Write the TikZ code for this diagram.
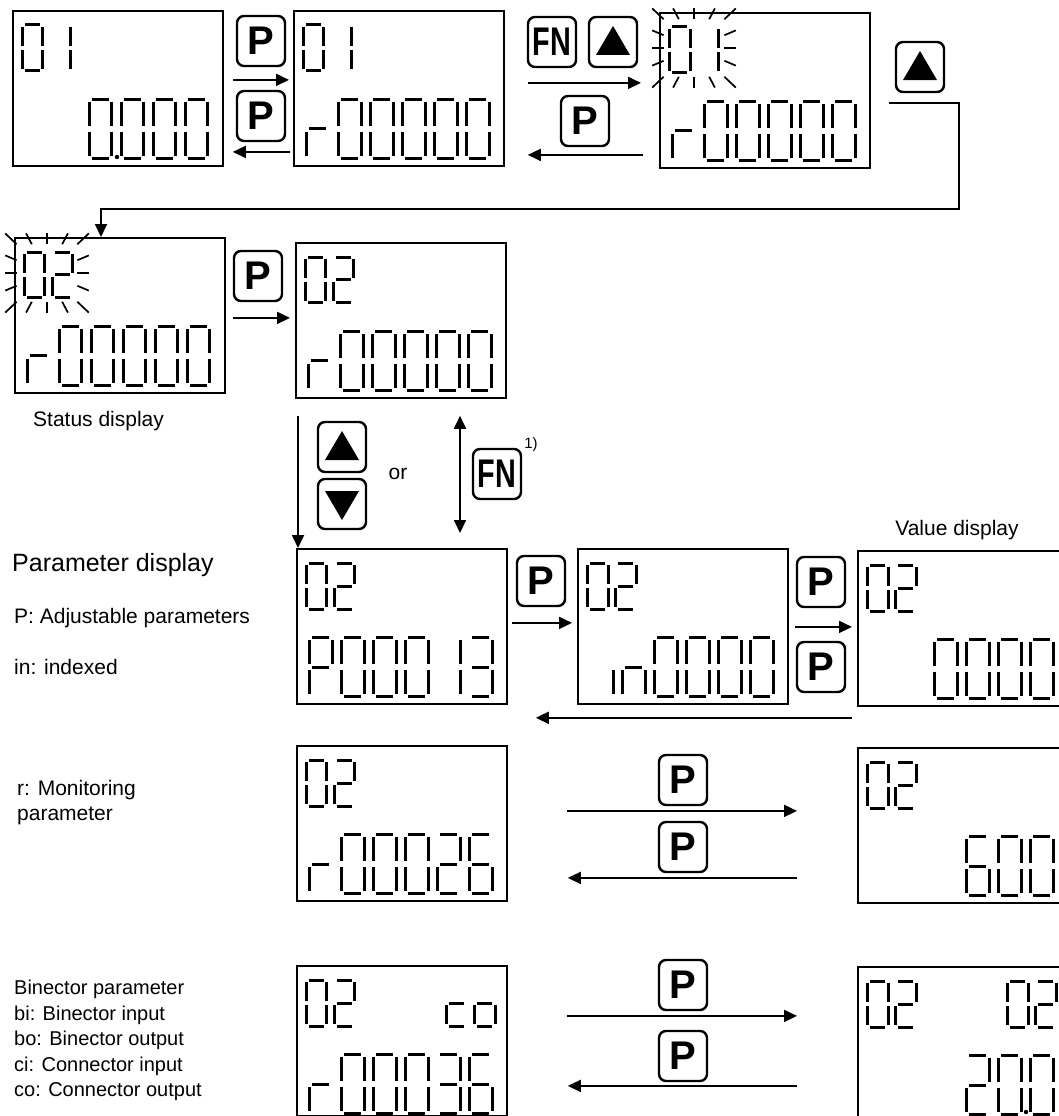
\documentclass[tikz,border=0pt]{standalone}
\usepackage{fontspec}
\setmainfont{Liberation Sans}
\usepackage{graphicx}
\usetikzlibrary{arrows.meta,calc}

% seven-segment glyphs: which segments are lit
\newcommand{\defglyph}[2]{\expandafter\def\csname lcdg-#1\endcsname{#2}}
\defglyph{0}{a,b,c,d,e,f}
\defglyph{1}{b,c}
\defglyph{2}{a,b,g,e,d}
\defglyph{3}{a,b,g,c,d}
\defglyph{6}{a,f,g,e,c,d}
\defglyph{P}{a,b,f,g,e}
\defglyph{r}{e,g}
\defglyph{n}{e,g,c}
\defglyph{i}{c}
\defglyph{c}{g,e,d}
\defglyph{o}{g,e,c,d}

% one cell: top left corner, size style, glyph
\newcommand{\lcdcell}[4]{%
  \begin{scope}[shift={(#1,#2)}, #3]
    \coordinate (sa1) at (0.15,0);  \coordinate (sa2) at (0.85,0);
    \coordinate (sb1) at (1,0.1);   \coordinate (sb2) at (1,0.9);
    \coordinate (sc1) at (1,1.1);   \coordinate (sc2) at (1,1.9);
    \coordinate (sd1) at (0.15,2);  \coordinate (sd2) at (0.85,2);
    \coordinate (se1) at (0,1.1);   \coordinate (se2) at (0,1.9);
    \coordinate (sf1) at (0,0.1);   \coordinate (sf2) at (0,0.9);
    \coordinate (sg1) at (0.15,1);  \coordinate (sg2) at (0.85,1);
    \edef\seglist{\csname lcdg-#4\endcsname}%
    \foreach \s in \seglist {\draw[segline] (s\s1) -- (s\s2);}
  \end{scope}}

% display contents: box corner, top row cell/glyph, bottom row cell/glyph
\newcommand{\lcd}[4]{%
  \foreach \i/\g in {#3} {\lcdcell{#1+10+28*\i}{#2+15}{smallcell}{\g}}
  \foreach \i/\g in {#4} {\lcdcell{#1+13+32*\i}{#2+89}{bigcell}{\g}}}

% blinking rays round a field
\newcommand{\blink}[2]{%
  \coordinate (bc) at (#1,#2);
  \foreach \dx/\dy in {-38/-36,-19/-36,0/-36,19/-36,38/-36,
                       -38/-16,-38/0,-38/16,38/-16,38/0,38/16,
                       -38/36,-19/36,0/36,19/36,38/36}
    \draw[ray] ($(bc)+0.8*(\dx,\dy)$) -- ($(bc)+1.1*(\dx,\dy)$);}

\begin{document}
\begin{tikzpicture}[
    x=1pt, y=-1pt,
    lcdbox/.style={draw, line width=1.8pt, minimum width=210pt, minimum height=155pt,
                   inner sep=0pt, anchor=north west},
    key/.style={draw, line width=2.4pt, rounded corners=7pt, minimum width=48pt,
                minimum height=50pt, inner sep=0pt, font=\fontsize{40}{40}\selectfont\bfseries},
    upkey/.style={key, path picture={\fill[sharp corners]
        ($(path picture bounding box.center)+(-17pt,-13pt)$) -- ++(34pt,0pt) -- ++(-17pt,29pt) -- cycle;}},
    downkey/.style={key, path picture={\fill[sharp corners]
        ($(path picture bounding box.center)+(-17pt,13pt)$) -- ++(34pt,0pt) -- ++(-17pt,-29pt) -- cycle;}},
    segline/.style={line width=3pt},
    ray/.style={line width=1.7pt},
    smallcell/.style={xscale=21, yscale=23},
    bigcell/.style={xscale=23, yscale=30},
    flow/.style={line width=1.8pt, -{Triangle[length=13pt,width=12pt]}},
    flowboth/.style={line width=1.8pt, {Triangle[length=13pt,width=12pt]}-{Triangle[length=13pt,width=12pt]}},
    lbl/.style={inner sep=0pt, font=\fontsize{21}{25}\selectfont}
]
    \useasboundingbox (0,0) rectangle (1059,1116);
    \clip (0,0) rectangle (1059,1116);

    % --- DISPLAYS ---
    \node[lcdbox] (disp1) at (12,10) {};
    \node[lcdbox] (disp2) at (293,10) {};
    \node[lcdbox] (disp3) at (659,12) {};
    \node[lcdbox] (disp4) at (14,237) {};
    \node[lcdbox] (disp5) at (295,242) {};
    \node[lcdbox] (disp6) at (296,548) {};
    \node[lcdbox] (disp7) at (577,548) {};
    \node[lcdbox] (disp8) at (857,550) {};
    \node[lcdbox] (disp9) at (296,745) {};
    \node[lcdbox] (disp10) at (857,747) {};
    \node[lcdbox, minimum height=150pt] (disp11) at (296,965) {};
    \node[lcdbox, minimum height=150pt] (disp12) at (857,966) {};

    % Digits
    \lcd{12}{10}{0/0,1/1}{2/0,3/0,4/0,5/0}
    \fill (117,157) circle (2.2pt);
    \lcd{293}{10}{0/0,1/1}{0/r,1/0,2/0,3/0,4/0,5/0}
    \lcd{659}{12}{0/0,1/1}{0/r,1/0,2/0,3/0,4/0,5/0}
    \blink{694}{48}
    \lcd{14}{237}{0/0,1/2}{0/r,1/0,2/0,3/0,4/0,5/0}
    \blink{47}{273}
    \lcd{295}{242}{0/0,1/2}{0/r,1/0,2/0,3/0,4/0,5/0}
    \lcd{296}{548}{0/0,1/2}{0/P,1/0,2/0,3/0,4/1,5/3}
    \lcd{577}{548}{0/0,1/2}{0/i,1/n,2/0,3/0,4/0,5/0}
    \lcd{857}{550}{0/0,1/2}{2/0,3/0,4/0,5/0}
    \lcd{296}{745}{0/0,1/2}{0/r,1/0,2/0,3/0,4/2,5/6}
    \lcd{857}{747}{0/0,1/2}{3/6,4/0,5/0}
    \lcd{296}{965}{0/0,1/2,5/c,6/o}{0/r,1/0,2/0,3/0,4/3,5/6}
    \lcd{857}{966}{0/0,1/2,5/0,6/2}{3/2,4/0,5/0}
    \fill (1026,1112) circle (2.2pt);

    % --- KEYS ---
    \node[key] (kp1) at (261,41) {P};
    \node[key] (kp2) at (261,116) {P};
    \node[key] (kfn1) at (552,42) {\scalebox{0.72}[1]{FN}};
    \node[upkey] (kup1) at (613,42) {};
    \node[key] (kp3) at (585,121) {P};
    \node[upkey] (kup2) at (920,67) {};
    \node[key] (kp4) at (258,276) {P};
    \node[upkey] (kup3) at (342,447) {};
    \node[downkey] (kdown) at (342,504) {};
    \node[key] (kfn2) at (497,474) {\scalebox{0.72}[1]{FN}};
    \node[key] (kp5) at (541,581) {P};
    \node[key] (kp6) at (821,582) {P};
    \node[key] (kp7) at (821,667) {P};
    \node[key] (kp8) at (683,780) {P};
    \node[key] (kp9) at (683,847) {P};
    \node[key] (kp10) at (683,985) {P};
    \node[key] (kp11) at (683,1056) {P};

    % --- ARROWS ---
    \draw[flow, shorten <=9pt, shorten >=4pt] ([yshift=8.5pt]disp1.east) -- ([yshift=8.5pt]disp2.west);
    \draw[flow, shorten <=3pt, shorten >=9pt] ([yshift=-63.5pt]disp2.west) -- ([yshift=-63.5pt]disp1.east);
    \draw[flow, shorten <=23pt, shorten >=18pt] ([yshift=5.5pt]disp2.east) -- ([yshift=7.5pt]disp3.west);
    \draw[flow, shorten <=16pt, shorten >=23pt] ([yshift=-64.5pt]disp3.west) -- ([yshift=-66.5pt]disp2.east);

    % Loop back to the status display
    \coordinate (turn) at (959,209);
    \draw[flow] ([shift={(18pt,-12.5pt)}]disp3.east) -| (turn) -| ([xshift=87pt]disp4.north west);

    \draw[flow, shorten <=7pt, shorten >=5pt] ([yshift=-2.5pt]disp4.east) -- ([yshift=2.5pt]disp5.west);
    \draw[flow, shorten <=17pt] ([xshift=3pt]disp5.south west) -- ([xshift=2pt]disp6.north west);
    \draw[flowboth, shorten <=17pt, shorten >=15pt] ([xshift=165pt]disp5.south west) -- ([xshift=164pt]disp6.north west);

    \draw[flow, shorten <=4pt, shorten >=5pt] ([yshift=3.5pt]disp6.east) -- ([yshift=3.5pt]disp7.west);
    \draw[flow, shorten <=6pt, shorten >=5pt] ([yshift=-0.5pt]disp7.east) -- ([yshift=1.5pt]disp8.west);
    \draw[flow] ([shift={(-5pt,-11pt)}]disp8.south west) -- ([shift={(28pt,-13pt)}]disp6.south east);

    \draw[flow, shorten <=59pt, shorten >=60pt] ([yshift=12.5pt]disp9.east) -- ([yshift=14.5pt]disp10.west);
    \draw[flow, shorten <=60pt, shorten >=60pt] ([yshift=-52.5pt]disp10.west) -- ([yshift=-54.5pt]disp9.east);
    \draw[flow, shorten <=59pt, shorten >=60pt] ([yshift=25pt]disp11.east) -- ([yshift=26pt]disp12.west);
    \draw[flow, shorten <=60pt, shorten >=60pt] ([yshift=-44pt]disp12.west) -- ([yshift=-45pt]disp11.east);

    % --- LABELS ---
    \node[lbl, anchor=west] (status) at (33,421) {Status display};
    \node[lbl, anchor=west, font=\fontsize{25}{30}\selectfont] (pardisp) at (12,565) {Parameter display};
    \node[lbl, anchor=west] (padj) at (14,618) {P: Adjustable parameters};
    \node[lbl, anchor=west] (pin) at (14,667) {in: indexed};
    \node[lbl, anchor=north west, align=left] (pmon) at (17,780) {r: Monitoring\\parameter};
    \node[lbl, anchor=north west, align=left, font=\fontsize{20}{25.5}\selectfont] (pbin) at (14,980)
        {Binector parameter\\bi: Binector input\\bo: Binector output\\ci: Connector input\\co: Connector output};
    \node[lbl] (valdisp) at (957,530) {Value display};
    \node[lbl] (orword) at (398,474) {or};
    \node[lbl, font=\fontsize{15}{15}\selectfont] (fnnote) at (531,445) {1)};

\end{tikzpicture}
\end{document}
